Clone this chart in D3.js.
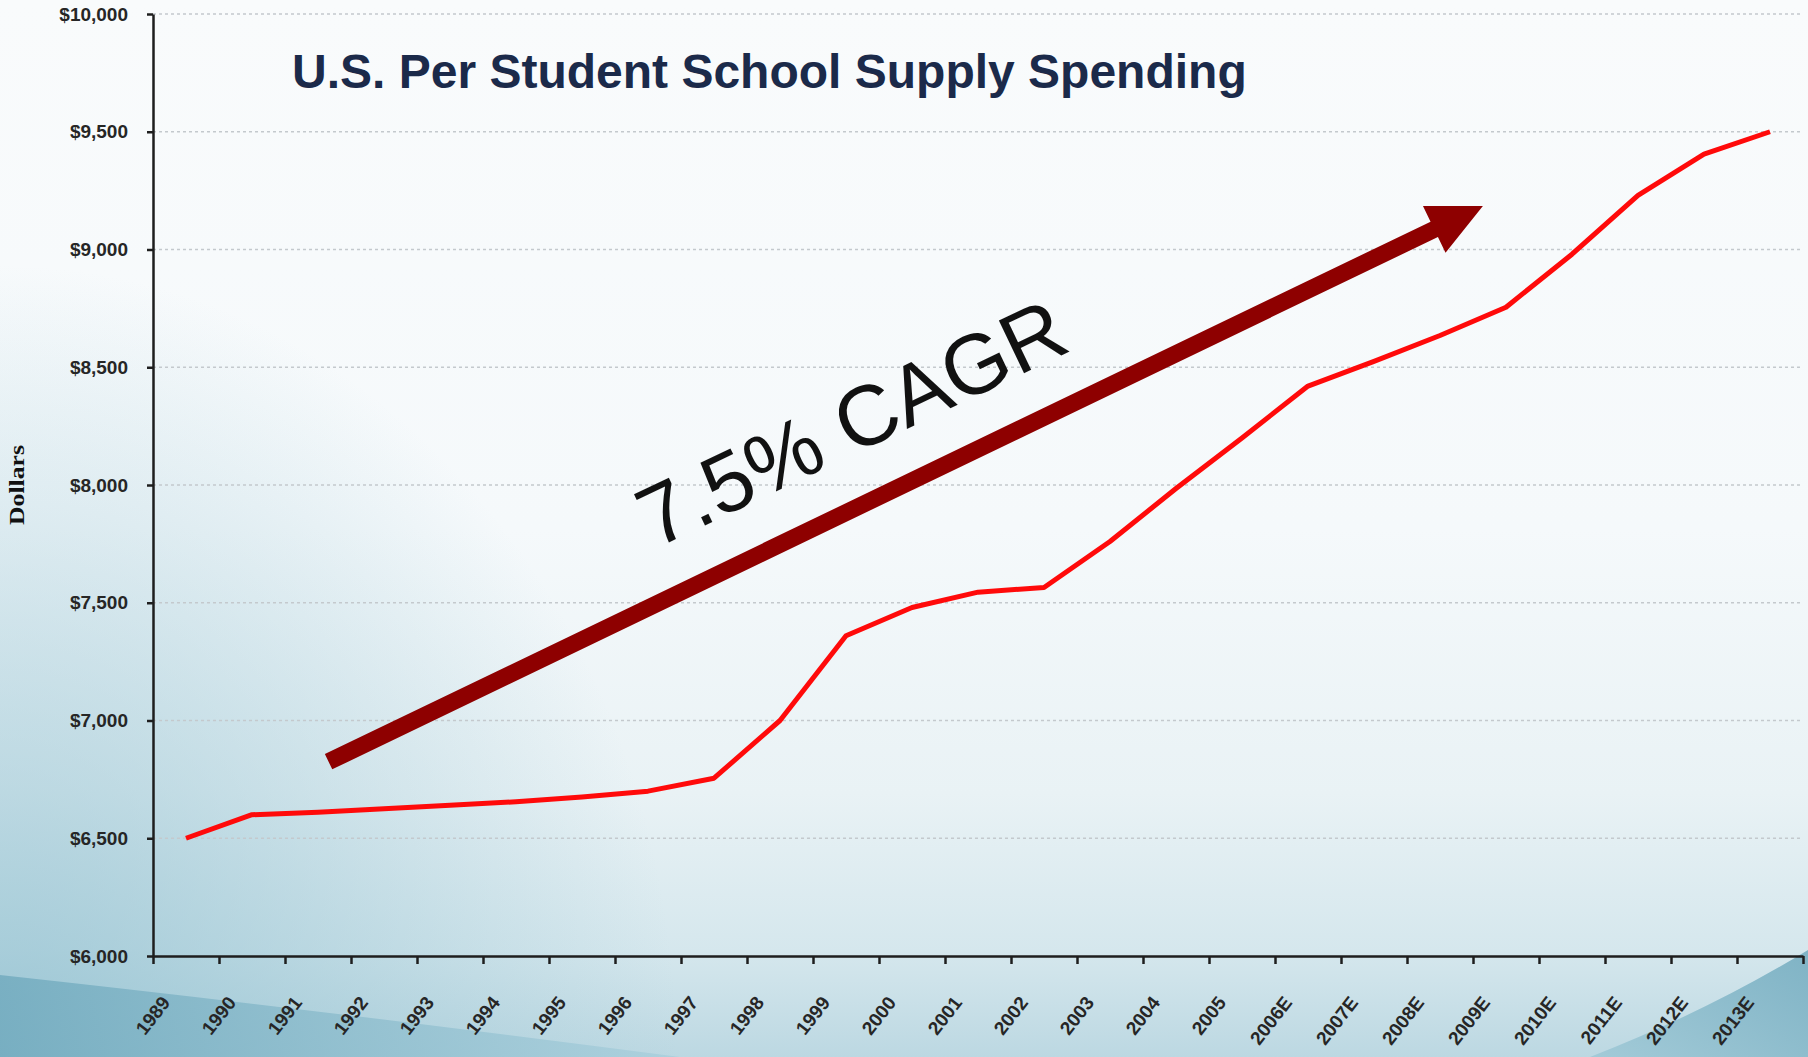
<!DOCTYPE html>
<html>
<head>
<meta charset="utf-8">
<script src="https://cdn.jsdelivr.net/npm/d3@7"></script>
<style>
  body { margin: 0; background: #ffffff; }
  svg { display: block; }
</style>
</head>
<body>
<svg id="chart" width="1808" height="1057"></svg>
<script>
// ---- data -------------------------------------------------------------
const categories = [
  "1989", "1990", "1991", "1992", "1993", "1994", "1995", "1996", "1997",
  "1998", "1999", "2000", "2001", "2002", "2003", "2004", "2005",
  "2006E", "2007E", "2008E", "2009E", "2010E", "2011E", "2012E", "2013E"
];
const spending = [
  6500, 6600, 6610, 6625, 6640, 6655, 6675, 6700, 6755,
  7000, 7360, 7480, 7545, 7565, 7760, 7985, 8200,
  8420, 8525, 8635, 8755, 8980, 9230, 9405, 9500
];
const yTicks = [6000, 6500, 7000, 7500, 8000, 8500, 9000, 9500, 10000];

const titleText = "U.S. Per Student School Supply Spending";
const yAxisTitle = "Dollars";
const cagrLabel = "7.5% CAGR";

// trend arrow and its label, in [category-band position, dollars]
const arrowFrom = [2.66, 6825];
const arrowTo = [20.15, 9185];
const cagrAnchor = [7.61, 7728];

// ---- layout -----------------------------------------------------------
const W = 1808, H = 1057;
const plot = { left: 153, right: 1803, top: 14, bottom: 956 };

const svg = d3.select("#chart");
const defs = svg.append("defs");

// slide background
const bgGrad = defs.append("linearGradient").attr("id", "bg")
  .attr("x1", 0).attr("y1", 0).attr("x2", 0).attr("y2", 1);
[[0, "#f9fbfc"], [0.5, "#f5f9fb"], [0.75, "#e9f2f5"], [0.9, "#d5e7ed"], [1, "#bcd8e2"]]
  .forEach(([o, c]) => bgGrad.append("stop").attr("offset", o).attr("stop-color", c));

const leftTint = defs.append("radialGradient").attr("id", "leftTint")
  .attr("cx", 0).attr("cy", 1).attr("r", 0.75)
  .attr("gradientUnits", "objectBoundingBox")
  .attr("gradientTransform", "scale(0.5,1)");
leftTint.append("stop").attr("offset", 0).attr("stop-color", "#8fbfcf").attr("stop-opacity", 0.75);
leftTint.append("stop").attr("offset", 1).attr("stop-color", "#8fbfcf").attr("stop-opacity", 0);

const swooshL = defs.append("linearGradient").attr("id", "swooshL")
  .attr("x1", 0).attr("y1", 0).attr("x2", 1).attr("y2", 0);
swooshL.append("stop").attr("offset", 0).attr("stop-color", "#6fa9bd");
swooshL.append("stop").attr("offset", 1).attr("stop-color", "#a9cfdc");

const swooshR = defs.append("linearGradient").attr("id", "swooshR")
  .attr("x1", 0).attr("y1", 1).attr("x2", 1).attr("y2", 0);
swooshR.append("stop").attr("offset", 0).attr("stop-color", "#9cc7d5");
swooshR.append("stop").attr("offset", 1).attr("stop-color", "#6aa6bb");

svg.append("rect").attr("width", W).attr("height", H).attr("fill", "url(#bg)");
svg.append("rect").attr("width", W).attr("height", H).attr("fill", "url(#leftTint)");
svg.append("path")
  .attr("d", `M0,975 Q320,1010 680,${H} L0,${H} Z`)
  .attr("fill", "url(#swooshL)").attr("opacity", 0.8);
svg.append("path")
  .attr("d", `M1590,${H} Q1710,1010 ${W},950 L${W},${H} Z`)
  .attr("fill", "url(#swooshR)").attr("opacity", 0.8);

// ---- scales -----------------------------------------------------------
const x = d3.scaleBand().domain(categories).range([plot.left, plot.right]).padding(0);
const xu = d3.scaleLinear().domain([0, categories.length]).range([plot.left, plot.right]);
const y = d3.scaleLinear().domain([6000, 10000]).range([plot.bottom, plot.top]);
const bw = x.bandwidth();

const tickFont = "'Liberation Sans', Arial, sans-serif";

// gridlines
svg.append("g").selectAll("line")
  .data(yTicks.filter(d => d > 6000))
  .join("line")
  .attr("x1", plot.left).attr("x2", plot.right)
  .attr("y1", d => y(d)).attr("y2", d => y(d))
  .attr("stroke", "#c4c9cd").attr("stroke-width", 1.6)
  .attr("stroke-dasharray", "3,3");

// y axis
const yAxis = svg.append("g")
  .attr("transform", `translate(${plot.left},0)`)
  .call(d3.axisLeft(y).tickValues(yTicks)
    .tickFormat(d => "$" + d3.format(",")(d))
    .tickSize(6).tickSizeOuter(0).tickPadding(19));
yAxis.select(".domain").attr("stroke", "#1e1e1e").attr("stroke-width", 2.5);
yAxis.selectAll(".tick line").attr("stroke", "#1e1e1e").attr("stroke-width", 2.5);
yAxis.selectAll(".tick text")
  .attr("font-family", tickFont).attr("font-size", 19).attr("font-weight", "bold")
  .attr("fill", "#262626");

// x axis: ticks on band boundaries
const xTicks = svg.append("g")
  .attr("transform", `translate(0,${plot.bottom})`)
  .call(d3.axisBottom(xu).tickValues(d3.range(0, categories.length + 1))
    .tickSize(8).tickSizeOuter(0).tickFormat(""));
xTicks.select(".domain").attr("stroke", "#1e1e1e").attr("stroke-width", 2.5);
xTicks.selectAll(".tick line").attr("stroke", "#1e1e1e").attr("stroke-width", 2.5);

// x axis: rotated category labels
const xLabels = svg.append("g")
  .attr("transform", `translate(0,${plot.bottom})`)
  .call(d3.axisBottom(x).tickSize(0).tickSizeOuter(0));
xLabels.select(".domain").remove();
xLabels.selectAll(".tick text")
  .attr("font-family", tickFont).attr("font-size", 19).attr("font-weight", "bold")
  .attr("fill", "#262626")
  .attr("text-anchor", "end")
  .attr("dy", null).attr("y", null)
  .attr("transform", "translate(-15,47) rotate(-52)");

// y axis title
svg.append("text")
  .attr("transform", "translate(17,485) rotate(-90)")
  .attr("text-anchor", "middle").attr("dominant-baseline", "central")
  .attr("font-family", "'Liberation Serif', 'Times New Roman', serif")
  .attr("font-weight", "bold").attr("font-size", 21)
  .attr("textLength", 80).attr("lengthAdjust", "spacingAndGlyphs")
  .attr("fill", "#111")
  .text(yAxisTitle);

// spending line
const line = d3.line()
  .x((d, i) => x(categories[i]) + bw / 2)
  .y(d => y(d));
svg.append("path")
  .datum(spending)
  .attr("d", line)
  .attr("fill", "none")
  .attr("stroke", "#ff0a0a")
  .attr("stroke-width", 5)
  .attr("stroke-linejoin", "round")
  .attr("stroke-linecap", "butt");

// trend arrow
const p0 = [xu(arrowFrom[0]), y(arrowFrom[1])];
const p1 = [xu(arrowTo[0]), y(arrowTo[1])];
const len = Math.hypot(p1[0] - p0[0], p1[1] - p0[1]);
const u = [(p1[0] - p0[0]) / len, (p1[1] - p0[1]) / len];
const n = [-u[1], u[0]];
const shaftHalf = 8.5, headHalf = 26, headLen = 54;
const base = [p1[0] - u[0] * headLen, p1[1] - u[1] * headLen];
const pt = (p, k) => [p[0] + n[0] * k, p[1] + n[1] * k];
const arrowPts = [
  pt(p0, shaftHalf), pt(base, shaftHalf), pt(base, headHalf), p1,
  pt(base, -headHalf), pt(base, -shaftHalf), pt(p0, -shaftHalf)
];
svg.append("path")
  .attr("d", "M" + arrowPts.map(p => p.join(",")).join("L") + "Z")
  .attr("fill", "#8e0000");

// CAGR label
svg.append("text")
  .attr("transform", `translate(${xu(cagrAnchor[0])},${y(cagrAnchor[1])}) rotate(-25.5)`)
  .attr("font-family", "'Liberation Sans', Arial, sans-serif")
  .attr("font-size", 85)
  .attr("fill", "#111")
  .text(cagrLabel);

// title
svg.append("text")
  .attr("x", 292).attr("y", 88)
  .attr("font-family", "'Liberation Sans', Arial, sans-serif")
  .attr("font-weight", "bold").attr("font-size", 48)
  .attr("fill", "#1b2a4a")
  .text(titleText);
</script>
</body>
</html>
